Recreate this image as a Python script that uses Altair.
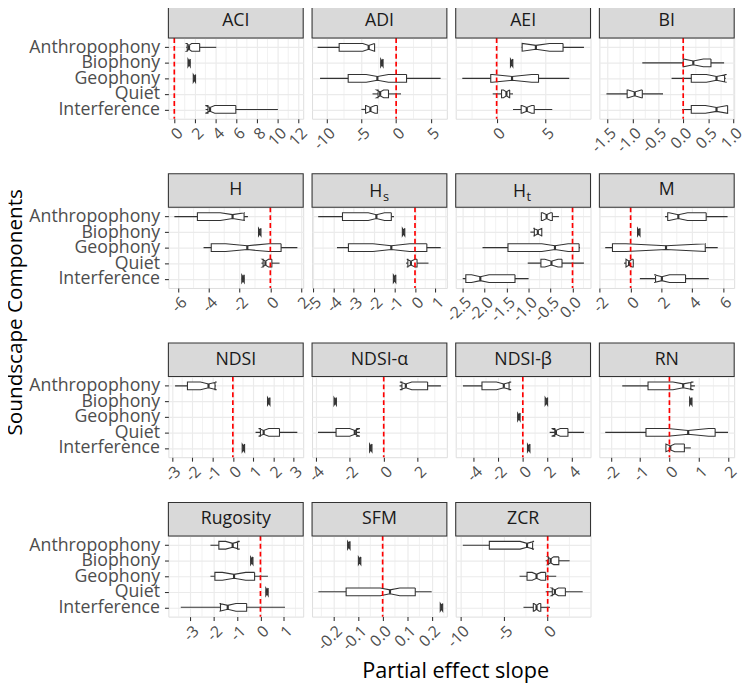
import altair as alt
import pandas as pd

# ---------------- data ----------------
CATEGORIES = ["Anthropophony", "Biophony", "Geophony", "Quiet", "Interference"]
PANELS = ["ACI", "ADI", "AEI", "BI",
          "H", "Hs", "Ht", "M",
          "NDSI", "NDSI-α", "NDSI-β", "RN",
          "Rugosity", "SFM", "ZCR"]
STRIP_SUB = {"Hs": "s", "Ht": "t"}

X_DOMAIN = {
    "ACI": [-0.57, 12.44], "ADI": [-12.1, 7.3], "AEI": [-4.17, 9.57], "BI": [-1.66, 1.01],
    "H": [-6.64, 2.14], "Hs": [-5.04, 1.56], "Ht": [-2.66, 0.41], "M": [-2.03, 6.73],
    "NDSI": [-3.18, 3.47], "NDSI-α": [-4.21, 3.71], "NDSI-β": [-5.47, 5.52], "RN": [-2.39, 2.21],
    "Rugosity": [-3.94, 1.83], "SFM": [-0.288, 0.262], "ZCR": [-10.56, 4.92],
}
X_TICKS = {
    "ACI": [0, 2, 4, 6, 8, 10, 12], "ADI": [-10, -5, 0, 5], "AEI": [0, 5],
    "BI": [-1.5, -1.0, -0.5, 0.0, 0.5, 1.0],
    "H": [-6, -4, -2, 0, 2], "Hs": [-5, -4, -3, -2, -1, 0, 1],
    "Ht": [-2.5, -2.0, -1.5, -1.0, -0.5, 0.0], "M": [-2, 0, 2, 4, 6],
    "NDSI": [-3, -2, -1, 0, 1, 2, 3], "NDSI-α": [-4, -2, 0, 2], "NDSI-β": [-4, -2, 0, 2, 4],
    "RN": [-2, -1, 0, 1, 2], "Rugosity": [-3, -2, -1, 0, 1],
    "SFM": [-0.2, -0.1, 0.0, 0.1, 0.2], "ZCR": [-10, -5, 0],
}
X_FORMAT = {"BI": ".1f", "Ht": ".1f", "SFM": ".1f"}

BOX_PANEL = (["ACI"] * 4 + ["ADI"] * 5 + ["AEI"] * 5 + ["BI"] * 4 +
             ["H"] * 5 + ["Hs"] * 5 + ["Ht"] * 5 + ["M"] * 5 +
             ["NDSI"] * 4 + ["NDSI-α"] * 4 + ["NDSI-β"] * 5 + ["RN"] * 4 +
             ["Rugosity"] * 5 + ["SFM"] * 4 + ["ZCR"] * 5)
BOX_CAT = [
    "Anthropophony", "Biophony", "Geophony", "Interference",                 # ACI
    "Anthropophony", "Biophony", "Geophony", "Quiet", "Interference",        # ADI
    "Anthropophony", "Biophony", "Geophony", "Quiet", "Interference",        # AEI
    "Biophony", "Geophony", "Quiet", "Interference",                         # BI
    "Anthropophony", "Biophony", "Geophony", "Quiet", "Interference",        # H
    "Anthropophony", "Biophony", "Geophony", "Quiet", "Interference",        # Hs
    "Anthropophony", "Biophony", "Geophony", "Quiet", "Interference",        # Ht
    "Anthropophony", "Biophony", "Geophony", "Quiet", "Interference",        # M
    "Anthropophony", "Biophony", "Quiet", "Interference",                    # NDSI
    "Anthropophony", "Biophony", "Quiet", "Interference",                    # NDSI-a
    "Anthropophony", "Biophony", "Geophony", "Quiet", "Interference",        # NDSI-b
    "Anthropophony", "Biophony", "Quiet", "Interference",                    # RN
    "Anthropophony", "Biophony", "Geophony", "Quiet", "Interference",        # Rugosity
    "Anthropophony", "Biophony", "Quiet", "Interference",                    # SFM
    "Anthropophony", "Biophony", "Geophony", "Quiet", "Interference",        # ZCR
]
BOX_MIN = [1.15, 1.32, 1.83, 3.02,
           -11.3, -2.22, -10.95, -3.4, -5.0,
           2.55, 1.41, -3.5, -0.4, 1.67,
           -0.81, -0.23, -1.52, -0.02,
           -6.25, -0.77, -4.35, -0.58, -1.86,
           -4.74, -0.62, -3.82, -0.44, -1.06,
           -0.72, -0.96, -2.05, -1.02, -2.5,
           2.24, 0.45, -1.65, -0.43, 0.6,
           -2.85, 1.71, 1.12, 0.46,
           0.93, -2.92, -3.86, -0.83,
           -4.88, 1.82, -0.42, 2.19, 0.38,
           -1.61, 0.69, -2.19, -0.12,
           -2.14, -0.42, -2.14, 0.23, -3.41,
           -0.143, -0.099, -0.262, 0.235,
           -9.74, -0.23, -3.23, -0.23, -2.78]
BOX_Q1 = [1.25, 1.32, 1.83, 3.25,
          -8.2, -2.22, -6.9, -2.6, -4.4,
          2.6, 1.41, -0.6, 0.5, 2.5,
          0.0, 0.16, -1.11, 0.16,
          -4.75, -0.77, -3.85, -0.47, -1.86,
          -3.55, -0.62, -3.26, -0.35, -1.06,
          -0.71, -0.87, -1.47, -0.72, -2.43,
          2.41, 0.45, -1.18, -0.3, 1.62,
          -2.24, 1.71, 1.36, 0.46,
          1.07, -2.92, -2.8, -0.83,
          -3.33, 1.82, -0.42, 2.61, 0.38,
          -0.73, 0.69, -0.8, -0.12,
          -1.78, -0.42, -1.95, 0.23, -1.71,
          -0.143, -0.099, -0.149, 0.235,
          -6.7, 0.08, -2.37, 0.53, -1.65]
BOX_MED = [1.42, 1.43, 1.94, 3.45,
           -3.95, -2.05, -2.7, -2.3, -3.7,
           4.0, 1.53, 1.57, 1.0, 3.07,
           0.2, 0.66, -0.96, 0.66,
           -2.46, -0.69, -1.5, -0.32, -1.78,
           -1.89, -0.56, -1.16, -0.2, -1.0,
           -0.59, -0.79, -0.40, -0.48, -2.1,
           3.1, 0.53, 2.3, -0.1, 2.03,
           -1.2, 1.77, 1.52, 0.52,
           1.3, -2.85, -1.7, -0.76,
           -1.55, 1.92, -0.32, 2.7, 0.48,
           0.47, 0.73, 0.64, 0.03,
           -1.19, -0.37, -1.13, 0.28, -1.4,
           -0.138, -0.094, 0.03, 0.240,
           -2.37, 0.34, -1.28, 0.83, -1.28]
BOX_Q3 = [2.45, 1.54, 2.05, 5.94,
          -3.1, -1.88, 1.5, -1.1, -2.7,
          6.77, 1.65, 4.27, 1.33, 3.83,
          0.55, 0.82, -0.81, 0.88,
          -1.71, -0.61, 0.7, 0.1, -1.70,
          -1.16, -0.50, 0.58, 0.1, -0.94,
          -0.46, -0.70, 0.15, -0.24, -1.31,
          4.91, 0.61, 4.85, 0.17, 3.57,
          -0.88, 1.83, 2.3, 0.58,
          2.58, -2.78, -1.6, -0.69,
          -1.12, 2.02, -0.22, 3.68, 0.58,
          0.73, 0.77, 1.56, 0.51,
          -0.98, -0.32, -0.25, 0.33, -0.59,
          -0.133, -0.089, 0.133, 0.245,
          -1.73, 1.28, -0.23, 2.03, -0.79]
BOX_MAX = [4.05, 1.54, 2.05, 10.0,
           -3.05, -1.88, 6.4, 0.7, -2.6,
           8.9, 1.65, 7.4, 1.67, 5.67,
           0.81, 0.84, -0.4, 0.88,
           -1.46, -0.61, 1.76, 0.6, -1.70,
           -1.03, -0.50, 1.26, 0.66, -0.94,
           -0.31, -0.70, 0.17, 0.26, -1.0,
           6.3, 0.61, 5.66, 0.2, 5.08,
           -0.85, 1.83, 3.18, 0.58,
           3.36, -2.78, -1.4, -0.69,
           -1.12, 2.02, -0.22, 4.99, 0.58,
           0.87, 0.77, 2.0, 0.73,
           -0.98, -0.32, 0.32, 0.33, 1.05,
           -0.133, -0.089, 0.2, 0.245,
           -1.73, 2.52, 0.98, 4.02, 0.26]
BOX_NOTCH = [0.25, 0.11, 0.11, 0.45,
             0.85, 0.17, 1.6, 0.5, 0.65,
             1.4, 0.12, 2.0, 0.3, 0.5,
             0.2, 0.2, 0.13, 0.22,
             0.8, 0.08, 1.4, 0.2, 0.08,
             0.4, 0.06, 0.9, 0.2, 0.06,
             0.09, 0.1, 0.3, 0.15, 0.2,
             0.6, 0.08, 2.6, 0.2, 0.5,
             0.4, 0.06, 0.25, 0.06,
             0.35, 0.07, 0.3, 0.07,
             0.6, 0.1, 0.1, 0.35, 0.1,
             0.35, 0.04, 0.7, 0.15,
             0.3, 0.05, 0.5, 0.05, 0.35,
             0.005, 0.005, 0.04, 0.005,
             0.8, 0.35, 0.5, 0.4, 0.3]

# ---------------- style ----------------
FONT = "Open Sans"
INK = "#333333"
GRID = "#EBEBEB"
W, H = 137, 82
STRIP = 34
HALF, INDENT = 0.25, 0.125

pos_of = {c: i + 1 for i, c in enumerate(CATEGORIES)}
box_rows, poly_rows = [], []
for i in range(len(BOX_PANEL)):
    p = pos_of[BOX_CAT[i]]
    q1, med, q3 = BOX_Q1[i], BOX_MED[i], BOX_Q3[i]
    nlo, nhi = med - BOX_NOTCH[i], med + BOX_NOTCH[i]
    box_rows.append(dict(panel=BOX_PANEL[i], pos=p, wmin=BOX_MIN[i], wmax=BOX_MAX[i],
                         q1=q1, med=med, q3=q3, ylo=p - HALF, yhi=p + HALF,
                         mlo=p - HALF + INDENT, mhi=p + HALF - INDENT))
    top, bot = p - HALF, p + HALF
    pts = [(q3, top), (nhi, top), (med, top + INDENT), (nlo, top), (q1, top),
           (q1, bot), (nlo, bot), (med, bot - INDENT), (nhi, bot), (q3, bot), (q3, top)]
    for k, (px, py) in enumerate(pts):
        poly_rows.append(dict(panel=BOX_PANEL[i], box=i, k=k, px=px, py=py))
box_df = pd.DataFrame(box_rows)
poly_df = pd.DataFrame(poly_rows)

y_label_expr = "[" + ",".join(["''"] + ["'" + c + "'" for c in CATEGORIES]) + "][datum.value]"


def minor_values(name):
    t = X_TICKS[name]
    step = t[1] - t[0]
    lo, hi = X_DOMAIN[name]
    cands = [t[0] - step / 2] + [v + step / 2 for v in t]
    return [v for v in cands if lo <= v <= hi]


def panel(name, first_col, xtitle=False):
    d = box_df[box_df.panel == name]
    poly = poly_df[poly_df.panel == name]
    fmt = X_FORMAT.get(name, "d")
    xs = alt.Scale(domain=X_DOMAIN[name], nice=False, zero=False)
    ys = alt.Scale(domain=[0.4, 5.6], reverse=True, nice=False, zero=False)
    xaxis = alt.Axis(values=X_TICKS[name],
                     labelExpr="replace(format(datum.value, '" + fmt + "'), '\u2212', '-')",
                     labelAngle=-45, labelAlign="right", labelBaseline="top",
                     labelFontSize=16, labelColor="#4D4D4D", labelFont=FONT,
                     labelPadding=2, labelFlush=False, labelOverlap=False,
                     grid=True, gridColor=GRID, gridWidth=1.2,
                     tickColor=INK, tickSize=4, tickWidth=1.1, domain=False, title=None)
    if first_col:
        yaxis = alt.Axis(values=[1, 2, 3, 4, 5], labelExpr=y_label_expr,
                         labelFontSize=18, labelColor="#4D4D4D", labelFont=FONT,
                         labelPadding=5, labelOverlap=False,
                         grid=True, gridColor=GRID, gridWidth=1.2,
                         tickColor=INK, tickSize=4, tickWidth=1.1, domain=False, title=None)
    else:
        yaxis = alt.Axis(values=[1, 2, 3, 4, 5], labels=False, ticks=False,
                         grid=True, gridColor=GRID, gridWidth=1.2, domain=False, title=None)

    def X(f):
        return alt.X(f, scale=xs, axis=xaxis, title=None)

    def Y(f):
        return alt.Y(f, scale=ys, axis=yaxis, title=None)

    minor = alt.Chart(pd.DataFrame({"v": minor_values(name)})).mark_rule(
        color=GRID, strokeWidth=0.7).encode(x=X("v:Q"))
    whisk = alt.Chart(d).mark_rule(color=INK, strokeWidth=1.1).encode(
        x=X("wmin:Q"), x2="wmax:Q", y=Y("pos:Q"))
    fill = alt.Chart(d).mark_rect(fill="white").encode(
        x=X("q1:Q"), x2="q3:Q", y=Y("ylo:Q"), y2="yhi:Q")
    outline = alt.Chart(poly).mark_line(color=INK, strokeWidth=1.1).encode(
        x=X("px:Q"), y=Y("py:Q"), order="k:Q", detail="box:N")
    median = alt.Chart(d).mark_rule(color=INK, strokeWidth=2.2).encode(
        x=X("med:Q"), y=Y("mlo:Q"), y2="mhi:Q")
    zero = alt.Chart(pd.DataFrame({"z": [0]})).mark_rule(
        color="red", strokeDash=[5, 3], strokeWidth=1.7).encode(x=X("z:Q"))
    one = pd.DataFrame({"a": [0]})
    strip = alt.Chart(one).mark_rect(fill="#D9D9D9", stroke=INK, strokeWidth=1.1).encode(
        x=alt.value(0), x2=alt.value(W), y=alt.value(-STRIP), y2=alt.value(0))
    layers = [minor, whisk, fill, outline, median, zero, strip]
    if name in STRIP_SUB:
        layers.append(alt.Chart(one).mark_text(font=FONT, fontSize=18, color="#1A1A1A",
                                               align="right", baseline="alphabetic").encode(
            x=alt.value(W / 2 + 3), y=alt.value(-10), text=alt.value("H")))
        layers.append(alt.Chart(one).mark_text(font=FONT, fontSize=13, color="#1A1A1A",
                                               align="left", baseline="alphabetic").encode(
            x=alt.value(W / 2 + 3.5), y=alt.value(-6), text=alt.value(STRIP_SUB[name])))
    else:
        layers.append(alt.Chart(one).mark_text(font=FONT, fontSize=18, color="#1A1A1A",
                                               align="center", baseline="middle").encode(
            x=alt.value(W / 2), y=alt.value(-STRIP / 2), text=alt.value(name)))
    if xtitle:
        layers.append(alt.Chart(one).mark_text(font=FONT, fontSize=22, color="black",
                                               align="center", baseline="alphabetic").encode(
            x=alt.value(146), y=alt.value(144), text=alt.value("Partial effect slope")))
    return alt.layer(*layers).properties(width=W, height=H)


rows = []
for r in range(4):
    names = PANELS[r * 4:(r + 1) * 4]
    rows.append(alt.hconcat(*[panel(n, j == 0, xtitle=(n == "SFM")) for j, n in enumerate(names)],
                            spacing=9, bounds="flush"))

chart = alt.vconcat(*rows, spacing=16).properties(
    title=alt.TitleParams("Soundscape Components", orient="left", anchor="middle",
                          font=FONT, fontSize=21, fontWeight="normal", color="black",
                          offset=2, dx=31),
    padding={"left": -3, "top": -11, "right": 0, "bottom": 0},
).configure_view(stroke=INK, strokeWidth=1.1).configure(font=FONT)

chart.save("out.html", embed_options={"renderer": "svg", "actions": False})
